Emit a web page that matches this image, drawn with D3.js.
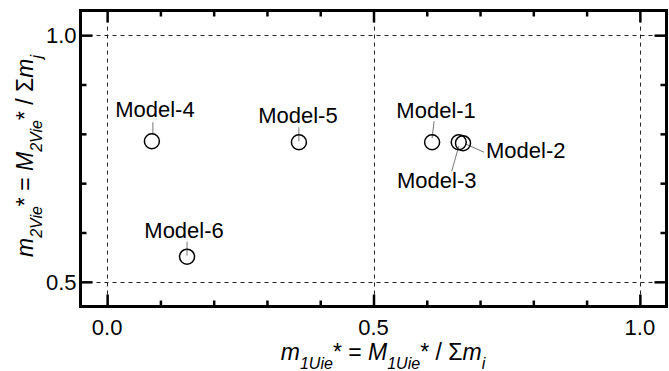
<!DOCTYPE html>
<html>
<head>
<meta charset="utf-8">
<script src="https://cdn.jsdelivr.net/npm/d3@7"></script>
<style>
	body { margin: 0; background: white; }
	svg text { font-family: "Liberation Sans", Arial, sans-serif; fill: black; }
</style>
</head>
<body>
<div id="chart"></div>
<script>

let w = 669;
let h = 371;

// data
let models = ["Model-1", "Model-2", "Model-3", "Model-4", "Model-5", "Model-6"];
let m1Uie = [0.610, 0.668, 0.660, 0.084, 0.360, 0.150];
let m2Vie = [0.783, 0.781, 0.783, 0.785, 0.783, 0.551];

let xTickValues = [0.0, 0.5, 1.0];
let xTickLabels = ["0.0", "0.5", "1.0"];
let yTickValues = [0.5, 1.0];
let yTickLabels = ["0.5", "1.0"];

// where each label sits, relative to its circle (px): text dx, dy, anchor, leader from, leader to
let labelLayout = [
	{dx: 4, dy: -24, anchor: "middle", l: [2, -21, 0, -4]},
	{dx: 23, dy: 15, anchor: "start", l: [3, 1, 21, 9]},
	{dx: -22, dy: 46, anchor: "middle", l: [0, 4, -7, 29]},
	{dx: 3, dy: -24, anchor: "middle", l: [1, -19, 1, -7]},
	{dx: -1, dy: -19, anchor: "middle", l: [0, -15, 0, -1]},
	{dx: -3, dy: -19, anchor: "middle", l: [0, -15, 0, -1]}
];

let viz = d3.select("#chart").append("svg")
	.attr("width", w)
	.attr("height", h)
;

let xScale = d3.scaleLinear().domain([-0.05, 1.05]).range([80.5, 666.5]);
let yScale = d3.scaleLinear().domain([0.45, 1.05]).range([306.5, 10.5]);

let x0 = xScale.range()[0], x1 = xScale.range()[1];
let y0 = yScale.range()[1], y1 = yScale.range()[0];

// dashed reference lines
let grid = viz.append("g").attr("class", "grid")
	.attr("stroke", "#222").attr("stroke-width", 1).attr("stroke-dasharray", "4,4");
grid.selectAll(".vgrid").data(xTickValues).enter().append("line")
	.attr("class", "vgrid")
	.attr("x1", d => Math.round(xScale(d)) + 0.5).attr("x2", d => Math.round(xScale(d)) + 0.5)
	.attr("y1", y0).attr("y2", y1);
grid.selectAll(".hgrid").data(yTickValues).enter().append("line")
	.attr("class", "hgrid")
	.attr("y1", d => Math.round(yScale(d)) + 0.5).attr("y2", d => Math.round(yScale(d)) + 0.5)
	.attr("x1", x0).attr("x2", x1);

// inward ticks on all four sides, major every 0.5, minor every 0.1
let minorX = d3.range(0, 11).map(i => i / 10);
let minorY = d3.range(5, 11).map(i => i / 10);
let isMajor = d => Math.abs(d * 2 - Math.round(d * 2)) < 1e-6;

let tickLen = d => isMajor(d) ? 12 : 6;

viz.append("g").attr("transform", `translate(0,${y1})`)
	.call(d3.axisBottom(xScale).tickValues(minorX).tickSize(0).tickFormat(""))
	.call(g => g.select(".domain").remove())
	.selectAll(".tick line").attr("y2", d => -tickLen(d)).attr("stroke", "black").attr("stroke-width", 2.5);
viz.append("g").attr("transform", `translate(0,${y0})`)
	.call(d3.axisTop(xScale).tickValues(minorX).tickSize(0).tickFormat(""))
	.call(g => g.select(".domain").remove())
	.selectAll(".tick line").attr("y2", d => tickLen(d)).attr("stroke", "black").attr("stroke-width", 2.5);
viz.append("g").attr("transform", `translate(${x0},0)`)
	.call(d3.axisLeft(yScale).tickValues(minorY).tickSize(0).tickFormat(""))
	.call(g => g.select(".domain").remove())
	.selectAll(".tick line").attr("x2", d => tickLen(d)).attr("stroke", "black").attr("stroke-width", 2.5);
viz.append("g").attr("transform", `translate(${x1},0)`)
	.call(d3.axisRight(yScale).tickValues(minorY).tickSize(0).tickFormat(""))
	.call(g => g.select(".domain").remove())
	.selectAll(".tick line").attr("x2", d => -tickLen(d)).attr("stroke", "black").attr("stroke-width", 2.5);

// frame
viz.append("rect")
	.attr("x", x0).attr("y", y0)
	.attr("width", x1 - x0).attr("height", y1 - y0)
	.attr("fill", "none").attr("stroke", "black").attr("stroke-width", 3);

// tick labels
viz.selectAll(".xlab").data(xTickValues).enter().append("text")
	.attr("class", "xlab")
	.attr("x", d => xScale(d)).attr("y", y1 + 28)
	.attr("text-anchor", "middle").attr("font-size", 22)
	.text((d, i) => xTickLabels[i]);
viz.selectAll(".ylab").data(yTickValues).enter().append("text")
	.attr("class", "ylab")
	.attr("x", x0 - 4).attr("y", d => yScale(d) + 8)
	.attr("text-anchor", "end").attr("font-size", 22)
	.text((d, i) => yTickLabels[i]);

// axis titles
function title(sel, sub, subEnd){
	let t = sel.append("text").attr("text-anchor", "middle").attr("font-size", 23);
	t.append("tspan").attr("font-style", "italic").text("m");
	t.append("tspan").attr("font-style", "italic").attr("font-size", 16).attr("dy", 9).text(sub);
	t.append("tspan").attr("dy", -9).text("* = ");
	t.append("tspan").attr("font-style", "italic").text("M");
	t.append("tspan").attr("font-style", "italic").attr("font-size", 16).attr("dy", 9).text(sub);
	t.append("tspan").attr("dy", -9).text("* / \u03A3");
	t.append("tspan").attr("font-style", "italic").text("m");
	t.append("tspan").attr("font-style", "italic").attr("font-size", 16).attr("dy", 9).text(subEnd);
}
title(viz.append("g").attr("transform", "translate(383,360)"), "1Uie", "i");
title(viz.append("g").attr("transform", "translate(33,156) rotate(-90)"), "2Vie", "j");

// points + labels
let points = viz.append("g").attr("class", "points");
let pts = points.selectAll(".datapoint").data(models).enter().append("g")
	.attr("class", "datapoint")
	.attr("transform", (d, i) => `translate(${xScale(m1Uie[i])},${yScale(m2Vie[i])})`);

pts.append("line")
	.attr("x1", (d, i) => labelLayout[i].l[0]).attr("y1", (d, i) => labelLayout[i].l[1])
	.attr("x2", (d, i) => labelLayout[i].l[2]).attr("y2", (d, i) => labelLayout[i].l[3])
	.attr("stroke", "#777").attr("stroke-width", 1);
pts.append("circle")
	.attr("r", 7.5)
	.attr("fill", "none").attr("stroke", "black").attr("stroke-width", 1.5);
pts.append("text")
	.attr("x", (d, i) => labelLayout[i].dx).attr("y", (d, i) => labelLayout[i].dy)
	.attr("text-anchor", (d, i) => labelLayout[i].anchor)
	.attr("font-size", 22)
	.text(d => d);

</script>
</body>
</html>
